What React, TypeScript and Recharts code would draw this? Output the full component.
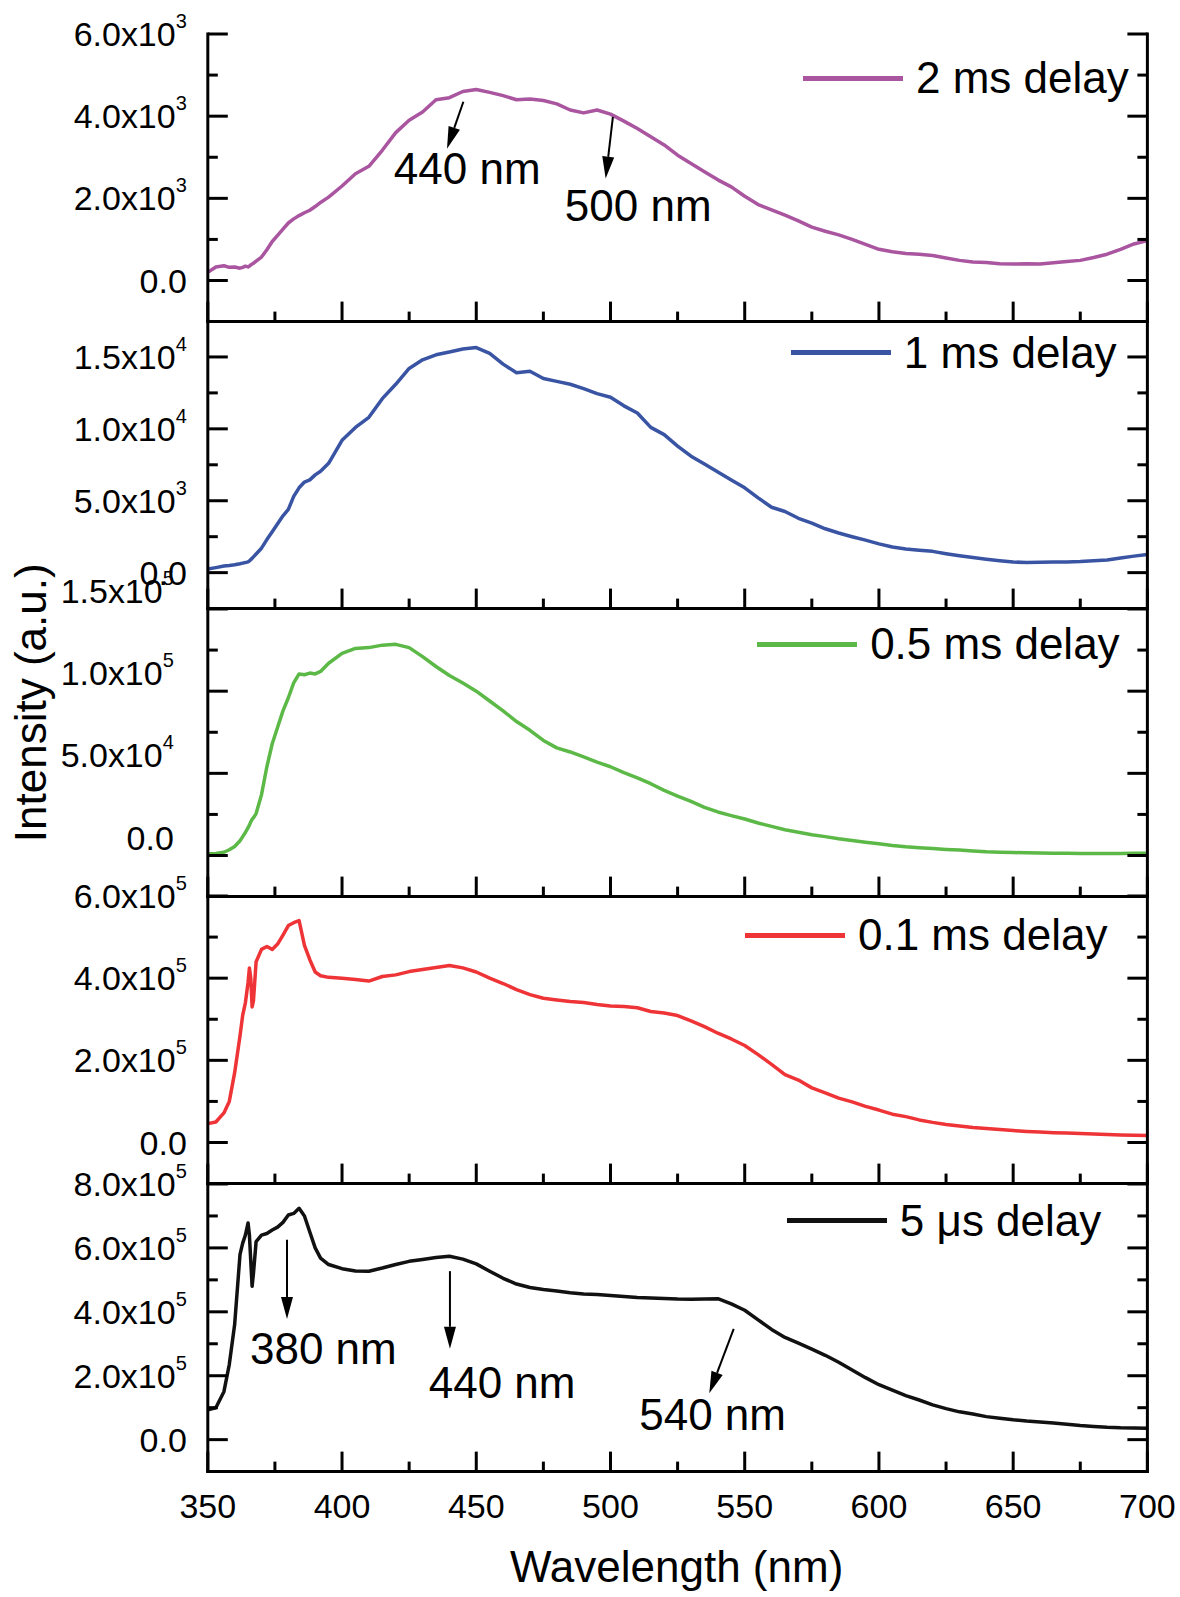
import React from "react";
import { LineChart, Line, XAxis, YAxis, Legend, ReferenceLine, ReferenceDot } from "recharts";

const FONT = '"Liberation Sans", Arial, Helvetica, sans-serif';

// wavelength grid (nm), denser around the sharp features near 365 nm
const wavelengths = [
  350, 353, 356, 358, 360, 362, 363, 364, 365, 365.5, 366, 366.5, 367, 368, 370, 372, 374, 376, 378, 380,
  382, 384, 386, 388, 390, 392, 395,
  400, 405, 410, 415, 420, 425, 430, 435, 440, 445, 450, 455, 460, 465, 470, 475, 480, 485, 490, 495,
  500, 505, 510, 515, 520, 525, 530, 535, 540, 545, 550, 555, 560, 565, 570, 575, 580, 585, 590, 595,
  600, 605, 610, 615, 620, 625, 630, 635, 640, 645, 650, 655, 660, 665, 670, 675, 680, 685, 690, 695, 700,
];

const delay2ms = [
  200, 330, 360, 320, 330, 300, 320, 350, 330, 350, 380, 400, 420, 470, 570, 750, 950, 1100, 1250, 1400,
  1500, 1580, 1650, 1710, 1800, 1900, 2030,
  2300, 2600, 2780, 3170, 3600, 3900, 4100, 4400, 4450, 4600, 4650, 4580, 4500, 4400, 4420, 4380, 4300, 4150, 4080, 4150,
  4050, 3880, 3700, 3500, 3300, 3050, 2850, 2650, 2450, 2280, 2050, 1850, 1720, 1590, 1450, 1300, 1200, 1110, 1000, 880,
  760, 700, 660, 640, 610, 550, 490, 450, 440, 410, 400, 410, 400, 430, 460, 490, 560, 640, 760, 890, 970,
];

const delay1ms = [
  250, 350, 460, 500, 550, 620, 660, 700, 750, 820, 900, 1000, 1100, 1300, 1700, 2300, 2850, 3400, 3950, 4400,
  5300, 5900, 6300, 6450, 6800, 7050, 7600,
  9200, 10100, 10800, 12100, 13100, 14200, 14800, 15150, 15350, 15550, 15650, 15250, 14500, 13900, 14000, 13500, 13300, 13100, 12800, 12450,
  12200, 11600, 11100, 10100, 9600, 8800, 8100, 7550, 7000, 6450, 5900, 5200, 4550, 4250, 3780, 3450, 3050, 2760, 2500, 2260,
  2000, 1780, 1650, 1560, 1480, 1320, 1180, 1050, 930, 830, 740, 700, 720, 740, 745, 770, 820, 880, 1020, 1150, 1260,
];

const delay05ms = [
  1000, 1200, 2000, 3500, 5500, 9000, 11500, 14000, 17000, 18500, 20500, 22000, 23000, 25500, 37000, 54000, 68000, 78000, 88000, 96000,
  105000, 110500, 110000, 111000, 110500, 112000, 117000,
  123000, 126000, 126500, 128000, 128500, 126500, 121000, 115000, 109500, 105000, 100000, 94000, 88000, 81500, 76200, 70000, 65500, 63000, 60000, 56800,
  54000, 50500, 47300, 43700, 39600, 36200, 32900, 29300, 26500, 24300, 22200, 19800, 17700, 15650, 14200, 12600, 11500, 10200, 9100, 8100,
  7200, 6100, 5300, 4700, 4200, 3700, 3300, 2800, 2300, 2000, 1800, 1650, 1500, 1400, 1300, 1250, 1200, 1200, 1200, 1300, 1400,
];

const delay01ms = [
  46000, 50000, 72000, 100000, 170000, 260000, 310000, 340000, 390000, 425000, 400000, 330000, 345000, 440000, 470000, 477000, 470000, 483000, 505000, 528000,
  535000, 540000, 480000, 445000, 415000, 406000, 402000,
  400000, 397000, 393000, 404000, 408000, 416000, 421000, 426000, 431000, 425000, 415000, 400000, 387000, 372000, 360000, 351000, 347000, 343000, 341000, 336000,
  332000, 331000, 328000, 319000, 315000, 309000, 296000, 282000, 266000, 252000, 236000, 214000, 190000, 165000, 152000, 133000, 121000, 108000, 99000, 88000,
  79000, 69000, 63000, 55000, 49000, 44000, 40000, 36500, 34000, 31500, 29000, 27000, 25500, 24000, 23000, 21800, 20500, 19500, 18500, 17800, 17000,
];

const delay5us = [
  93000, 100000, 150000, 235000, 360000, 580000, 615000, 640000, 678000, 640000, 560000, 480000, 520000, 620000, 640000, 645000, 656000, 665000, 680000, 703000,
  708000, 724000, 700000, 650000, 600000, 568000, 548000,
  535000, 528000, 527000, 537000, 548000, 558000, 564000, 570000, 574000, 565000, 550000, 527000, 505000, 487000, 476000, 470000, 465000, 460000, 456000, 454000,
  451000, 448000, 445000, 443000, 441500, 440000, 439500, 440000, 441000, 425000, 405000, 375000, 345000, 320000, 302000, 283000, 264000, 242000, 218000, 194000,
  172000, 155000, 138000, 124000, 109000, 97000, 87000, 80000, 72000, 67000, 62000, 58000, 55000, 52000, 48000, 44000, 41000, 38500, 37000, 36500, 36000,
];

// axis ticks
const xTicks = [350, 375, 400, 425, 450, 475, 500, 525, 550, 575, 600, 625, 650, 675, 700];
const ticks2ms = [0, 1000, 2000, 3000, 4000, 5000, 6000];
const major2ms = [0, 2000, 4000, 6000];
const ticks1ms = [0, 2500, 5000, 7500, 10000, 12500, 15000];
const major1ms = [0, 5000, 10000, 15000];
const ticks05ms = [0, 25000, 50000, 75000, 100000, 125000, 150000];
const major05ms = [0, 50000, 100000, 150000];
const ticks01ms = [0, 100000, 200000, 300000, 400000, 500000, 600000];
const major01ms = [0, 200000, 400000, 600000];
const ticks5us = [0, 100000, 200000, 300000, 400000, 500000, 600000, 700000, 800000];
const major5us = [0, 200000, 400000, 600000, 800000];

// annotation arrows [x0, y0, x1(tip), y1(tip)] and labels, in data units
const arrows2ms = [
  [445.2, 4350, 439.1, 3210],
  [500.9, 3985, 498.2, 2480],
];
const labels2ms = [
  { x: 419.3, y: 2360, text: "440 nm" },
  { x: 483, y: 1450, text: "500 nm" },
];
const arrows5us = [
  [379.5, 625600, 379.5, 377400],
  [440.2, 527300, 440.2, 284400],
  [545.9, 346400, 536.8, 144800],
];
const labels5us = [
  { x: 365.7, y: 237800, text: "380 nm" },
  { x: 432.3, y: 129000, text: "440 nm" },
  { x: 510.7, y: 31000, text: "540 nm" },
];

const rows = wavelengths.map((w, i) => ({
  w,
  d2ms: delay2ms[i],
  d1ms: delay1ms[i],
  d05ms: delay05ms[i],
  d01ms: delay01ms[i],
  d5us: delay5us[i],
}));

// layout
const CHART_W = 1180;
const LEFT_W = 207.8;
const RIGHT_W = 32.6;
const PLOT_TOP = 33.6;
const PANEL_H = 287.6;
const PAD = 60;

const axisStyle = { stroke: "#000", strokeWidth: 3, strokeLinecap: "square" as const };

function sciLabel(v: number) {
  if (v === 0) return { mant: "0.0", exp: "" };
  const exp = Math.floor(Math.log10(v) + 1e-9);
  return { mant: (v / Math.pow(10, exp)).toFixed(1) + "x10", exp: String(exp) };
}

const leftTick = (majors: number[], shift: number[]) => (props: any) => {
  const { x, y, payload } = props;
  const v = payload.value;
  const major = majors.includes(v);
  const lab = sciLabel(v);
  return (
    <g>
      <line x1={x} x2={x + (major ? 20 : 10)} y1={y} y2={y} stroke="#000" strokeWidth={3} />
      {major && (
        <text x={x - 21 + shift[0]} y={y + 12 + shift[1]} textAnchor="end" fontFamily={FONT} fontSize={34} fill="#000">
          {lab.mant}
          {lab.exp && (
            <tspan dy={-18} fontSize={20}>
              {lab.exp}
            </tspan>
          )}
        </text>
      )}
    </g>
  );
};

const rightTick = (majors: number[]) => (props: any) => {
  const { x, y, payload } = props;
  const major = majors.includes(payload.value);
  return <line x1={x} x2={x - (major ? 20 : 10)} y1={y} y2={y} stroke="#000" strokeWidth={3} />;
};

const bottomTick = (showLabels: boolean) => (props: any) => {
  const { x, y, payload } = props;
  const major = payload.value % 50 === 0;
  return (
    <g>
      <line x1={x} x2={x} y1={y} y2={y - (major ? 20 : 10)} stroke="#000" strokeWidth={3} />
      {showLabels && major && (
        <text x={x} y={y + 46} textAnchor="middle" fontFamily={FONT} fontSize={34} fill="#000">
          {payload.value}
        </text>
      )}
    </g>
  );
};

const arrowShape = (p: any) => {
  const { x1, y1, x2, y2 } = p;
  const ang = Math.atan2(y2 - y1, x2 - x1);
  const len = 22;
  const half = 6;
  const bx = x2 - len * Math.cos(ang);
  const by = y2 - len * Math.sin(ang);
  const px = -Math.sin(ang) * half;
  const py = Math.cos(ang) * half;
  return (
    <g>
      <line x1={x1} y1={y1} x2={bx} y2={by} stroke="#000" strokeWidth={2} />
      <polygon points={`${x2},${y2} ${bx + px},${by + py} ${bx - px},${by - py}`} fill="#000" />
    </g>
  );
};

const noteShape = (text: string) => (p: any) => (
  <text x={p.cx} y={p.cy} fontFamily={FONT} fontSize={44} fill="#000">
    {text}
  </text>
);

const legendContent = (props: any) => {
  const item = props.payload && props.payload[0];
  if (!item) return null;
  return (
    <div
      style={{
        display: "flex",
        alignItems: "center",
        fontFamily: FONT,
        fontSize: 44,
        lineHeight: "44px",
        color: "#000",
        whiteSpace: "nowrap",
      }}
    >
      <span style={{ display: "inline-block", width: 100, height: 5, background: item.color, marginRight: 13 }} />
      <span>{item.value}</span>
    </div>
  );
};

const yTitle = (p: any) => {
  const vb = p.viewBox;
  const cx = 45.5;
  const cy = vb.y + vb.height / 2 - 50;
  return (
    <text x={cx} y={cy} transform={`rotate(-90 ${cx} ${cy})`} textAnchor="middle" fontFamily={FONT} fontSize={44} fill="#000">
      Intensity (a.u.)
    </text>
  );
};

const xTitle = (p: any) => {
  const vb = p.viewBox;
  return (
    <text x={vb.x + vb.width / 2 - 1} y={vb.y + 110} textAnchor="middle" fontFamily={FONT} fontSize={44} fill="#000">
      Wavelength (nm)
    </text>
  );
};

const panels = [
  { key: "d2ms", name: "2 ms delay", color: "#a9559f", domain: [-1000, 6000], ticks: ticks2ms, majors: major2ms, legendY: 44.7, legendRight: 1128.7, shift: [0, 0], arrows: arrows2ms, notes: labels2ms },
  { key: "d1ms", name: "1 ms delay", color: "#3a54a4", domain: [-2500, 17500], ticks: ticks1ms, majors: major1ms, legendY: 31.8, legendRight: 1116.6, shift: [0, 0], arrows: [], notes: [] },
  { key: "d05ms", name: "0.5 ms delay", color: "#5cb947", domain: [-25000, 150000], ticks: ticks05ms, majors: major05ms, legendY: 35.5, legendRight: 1119.6, shift: [-13, -18], arrows: [], notes: [] },
  { key: "d01ms", name: "0.1 ms delay", color: "#ee3436", domain: [-100000, 600000], ticks: ticks01ms, majors: major01ms, legendY: 38.9, legendRight: 1107.4, shift: [0, 0], arrows: [], notes: [] },
  { key: "d5us", name: "5 \u03bcs delay", color: "#111111", domain: [-100000, 800000], ticks: ticks5us, majors: major5us, legendY: 36.7, legendRight: 1101.3, shift: [0, 0], arrows: arrows5us, notes: labels5us },
];

export default function App() {
  return (
    <div style={{ position: "absolute", left: 0, top: 0, width: 1180, height: 1597, background: "#fff", overflow: "hidden" }}>
      {panels.map((p, i) => {
        const last = i === panels.length - 1;
        const plotTop = PLOT_TOP + i * PANEL_H;
        const bottomH = last ? 1597 - (plotTop + PANEL_H) : 40;
        return (
          <div key={p.key} style={{ position: "absolute", left: 0, top: plotTop - PAD }}>
            <LineChart width={CHART_W} height={PAD + PANEL_H + bottomH} data={rows} margin={{ top: PAD, right: 0, bottom: 0, left: 0 }}>
              <XAxis
                xAxisId="b"
                dataKey="w"
                type="number"
                domain={[350, 700]}
                allowDataOverflow
                ticks={xTicks}
                interval={0}
                height={bottomH}
                tickSize={0}
                tickMargin={0}
                tickLine={false}
                axisLine={axisStyle}
                tick={bottomTick(last)}
                label={last ? { content: xTitle } : undefined}
              />
              <XAxis xAxisId="t" orientation="top" dataKey="w" type="number" domain={[350, 700]} allowDataOverflow height={0} tick={false} tickLine={false} axisLine={axisStyle} />
              <YAxis
                yAxisId="l"
                type="number"
                domain={p.domain}
                allowDataOverflow
                ticks={p.ticks}
                interval={0}
                width={LEFT_W}
                tickSize={0}
                tickMargin={0}
                tickLine={false}
                axisLine={axisStyle}
                tick={leftTick(p.majors, p.shift)}
                label={i === 2 ? { content: yTitle } : undefined}
              />
              <YAxis
                yAxisId="r"
                orientation="right"
                type="number"
                domain={p.domain}
                allowDataOverflow
                ticks={p.ticks}
                interval={0}
                width={RIGHT_W}
                tickSize={0}
                tickMargin={0}
                tickLine={false}
                axisLine={axisStyle}
                tick={rightTick(p.majors)}
              />
              <Legend
                layout="vertical"
                align="center"
                verticalAlign="middle"
                wrapperStyle={{ top: PAD + p.legendY - 22, right: CHART_W - p.legendRight }}
                content={legendContent}
              />
              <Line
                xAxisId="b"
                yAxisId="l"
                type="linear"
                dataKey={p.key}
                name={p.name}
                stroke={p.color}
                strokeWidth={3.5}
                strokeLinejoin="round"
                dot={false}
                activeDot={false}
                isAnimationActive={false}
              />
              {p.arrows.map((a, j) => (
                <ReferenceLine
                  key={`a${j}`}
                  xAxisId="b"
                  yAxisId="l"
                  segment={[{ x: a[0], y: a[1] }, { x: a[2], y: a[3] }]}
                  shape={arrowShape}
                />
              ))}
              {p.notes.map((n, j) => (
                <ReferenceDot key={`n${j}`} xAxisId="b" yAxisId="l" x={n.x} y={n.y} r={0} shape={noteShape(n.text)} />
              ))}
            </LineChart>
          </div>
        );
      })}
    </div>
  );
}
